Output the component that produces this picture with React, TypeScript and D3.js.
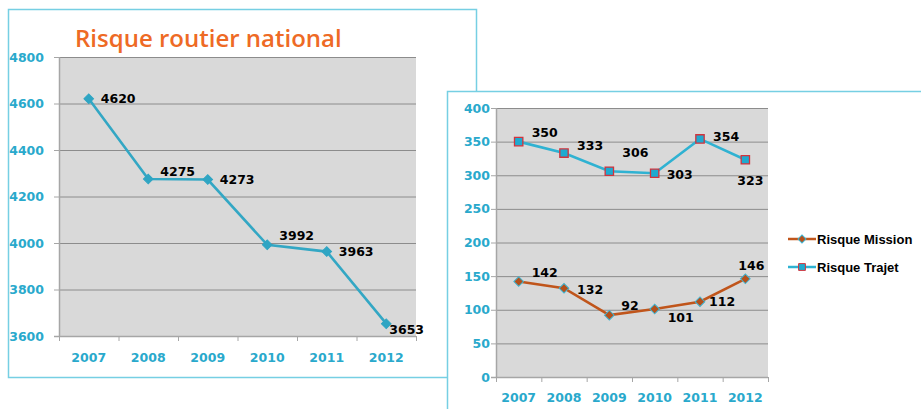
import React, { useEffect, useRef } from 'react';
import * as d3 from 'd3';

// Chart data
const years = ['2007', '2008', '2009', '2010', '2011', '2012'];
const nationalValues = [4620, 4275, 4273, 3992, 3963, 3653];
const nationalTicks = [3600, 3800, 4000, 4200, 4400, 4600, 4800];
const missionValues = [142, 132, 92, 101, 112, 146];
const trajetValues = [350, 333, 306, 303, 354, 323];
const companyTicks = [0, 50, 100, 150, 200, 250, 300, 350, 400];

// label offsets from the marker (dx, dy), as Excel placed them
const nationalLabelOffsets = [[12, 0], [12, -8], [12, 0], [12, -9], [12, 0], [3, 6]];
const trajetLabelOffsets = [[13, -9], [13, -8], [13, -19], [12, 1], [13, -2], [-8, 21]];
const missionLabelOffsets = [[13, -9], [13, 1], [12, -10], [13, 8], [9, 0], [-7, -13]];

const AXIS_BLUE = '#29a9cc';
const BORDER = '#76cfe3';
const GRID = '#8c8c8c';
const PLOT_BG = '#d9d9d9';

const App = () => {
  const svgRef = useRef(null);

  useEffect(() => {
    const svg = d3.select(svgRef.current);
    svg.selectAll('*').remove();

    const drawPanel = (opts) => {
      const { left, right, top, bottom, domain, ticks } = opts;
      const x = d3.scaleBand().domain(years).range([left, right]);
      const y = d3.scaleLinear().domain(domain).range([bottom, top]);

      svg.append('rect')
        .attr('x', left).attr('y', top)
        .attr('width', right - left).attr('height', bottom - top)
        .attr('fill', PLOT_BG);

      svg.append('g').selectAll('line')
        .data(ticks.slice(1))
        .join('line')
        .attr('x1', left).attr('x2', right)
        .attr('y1', d => y(d) + 0.5).attr('y2', d => y(d) + 0.5)
        .attr('stroke', GRID).attr('stroke-width', 1);

      // axes
      svg.append('line')
        .attr('x1', left + 0.5).attr('x2', left + 0.5)
        .attr('y1', top).attr('y2', bottom)
        .attr('stroke', '#a6a6a6').attr('stroke-width', 1.5);
      svg.append('line')
        .attr('x1', left - 5).attr('x2', right)
        .attr('y1', bottom + 0.5).attr('y2', bottom + 0.5)
        .attr('stroke', '#a6a6a6').attr('stroke-width', 1.5);
      svg.append('g').selectAll('line')
        .data(ticks)
        .join('line')
        .attr('x1', left - 5).attr('x2', left)
        .attr('y1', d => y(d) + 0.5).attr('y2', d => y(d) + 0.5)
        .attr('stroke', '#a6a6a6');
      svg.append('g').selectAll('line')
        .data(years.concat(['end']))
        .join('line')
        .attr('x1', (d, i) => left + i * x.bandwidth() + 0.5)
        .attr('x2', (d, i) => left + i * x.bandwidth() + 0.5)
        .attr('y1', bottom).attr('y2', bottom + 5)
        .attr('stroke', '#a6a6a6');

      svg.append('g').selectAll('text')
        .data(ticks)
        .join('text')
        .attr('x', opts.yLabelX)
        .attr('y', d => y(d))
        .attr('dy', '0.36em')
        .attr('text-anchor', 'end')
        .attr('fill', AXIS_BLUE)
        .style('font', 'bold 12.5px "DejaVu Sans"')
        .text(d => d);

      svg.append('g').selectAll('text')
        .data(years)
        .join('text')
        .attr('x', d => x(d) + x.bandwidth() / 2)
        .attr('y', opts.xLabelY)
        .attr('dy', '0.36em')
        .attr('text-anchor', 'middle')
        .attr('fill', AXIS_BLUE)
        .style('font', 'bold 12.5px "DejaVu Sans"')
        .text(d => d);

      return { x, y };
    };

    const drawSeries = (x, y, values, offsets, s) => {
      const px = (d, i) => x(years[i]) + x.bandwidth() / 2;
      const line = d3.line().x(px).y(d => y(d));
      svg.append('path')
        .datum(values)
        .attr('d', line)
        .attr('fill', 'none')
        .attr('stroke', s.lineColor)
        .attr('stroke-width', 2.6);
      svg.append('g').selectAll('path')
        .data(values)
        .join('path')
        .attr('d', d3.symbol().type(d3.symbolSquare).size(s.markerSize))
        .attr('transform', (d, i) => `translate(${px(d, i)},${y(d)}) rotate(${s.rotate})`)
        .attr('fill', s.markerFill)
        .attr('stroke', s.markerStroke)
        .attr('stroke-width', s.markerStrokeWidth);
      svg.append('g').selectAll('text')
        .data(values)
        .join('text')
        .attr('x', (d, i) => px(d, i) + offsets[i][0])
        .attr('y', (d, i) => y(d) + offsets[i][1])
        .attr('dy', '0.36em')
        .attr('fill', '#000')
        .style('font', 'bold 12.5px "DejaVu Sans"')
        .text(d => d);
    };

    // ---- left panel: national risk ----
    svg.append('rect')
      .attr('x', 8.5).attr('y', 9.5)
      .attr('width', 468).attr('height', 368)
      .attr('fill', 'white')
      .attr('stroke', BORDER).attr('stroke-width', 1.5);

    svg.append('text')
      .attr('x', 75).attr('y', 47)
      .attr('fill', '#ee6a25')
      .style('font', '600 24px "Open Sans"')
      .text('Risque routier national');

    const left = drawPanel({
      left: 59, right: 416, top: 57, bottom: 336,
      domain: [3600, 4800], ticks: nationalTicks,
      yLabelX: 44, xLabelY: 357,
    });
    drawSeries(left.x, left.y, nationalValues, nationalLabelOffsets, {
      lineColor: '#33a7c4', markerFill: '#2fa5c3', markerStroke: '#2fa5c3',
      markerStrokeWidth: 1, markerSize: 46, rotate: 45,
    });

    // ---- right panel: mission / trajet ----
    svg.append('rect')
      .attr('x', 447.5).attr('y', 91.5)
      .attr('width', 500).attr('height', 400)
      .attr('fill', 'white')
      .attr('stroke', BORDER).attr('stroke-width', 1.5);

    const right = drawPanel({
      left: 496, right: 768, top: 108, bottom: 377,
      domain: [0, 400], ticks: companyTicks,
      yLabelX: 490, xLabelY: 397,
    });
    drawSeries(right.x, right.y, trajetValues, trajetLabelOffsets, {
      lineColor: '#2fb2d2', markerFill: '#1eaad0', markerStroke: '#d2333c',
      markerStrokeWidth: 1.3, markerSize: 70, rotate: 0,
    });
    drawSeries(right.x, right.y, missionValues, missionLabelOffsets, {
      lineColor: '#c0551b', markerFill: '#b5501b', markerStroke: '#3fb3d0',
      markerStrokeWidth: 1, markerSize: 46, rotate: 45,
    });

    // legend
    const legend = [
      { name: 'Risque Mission', color: '#c0551b', fill: '#b5501b', stroke: '#3fb3d0', rotate: 45, size: 32 },
      { name: 'Risque Trajet', color: '#2fb2d2', fill: '#1eaad0', stroke: '#d2333c', rotate: 0, size: 46 },
    ];
    const lg = svg.append('g').selectAll('g')
      .data(legend)
      .join('g')
      .attr('transform', (d, i) => `translate(788,${239 + i * 28})`);
    lg.append('line')
      .attr('x1', 0).attr('x2', 28)
      .attr('stroke', d => d.color).attr('stroke-width', 2.5);
    lg.append('path')
      .attr('d', d => d3.symbol().type(d3.symbolSquare).size(d.size)())
      .attr('transform', d => `translate(14,0) rotate(${d.rotate})`)
      .attr('fill', d => d.fill)
      .attr('stroke', d => d.stroke);
    lg.append('text')
      .attr('x', 29).attr('dy', '0.36em')
      .style('font', 'bold 13px "Liberation Sans"')
      .text(d => d.name);
  }, []);

  return (
    <svg
      ref={svgRef}
      width={921}
      height={409}
      style={{ position: 'absolute', left: 0, top: 0, background: 'white' }}
    />
  );
};

export default App;
